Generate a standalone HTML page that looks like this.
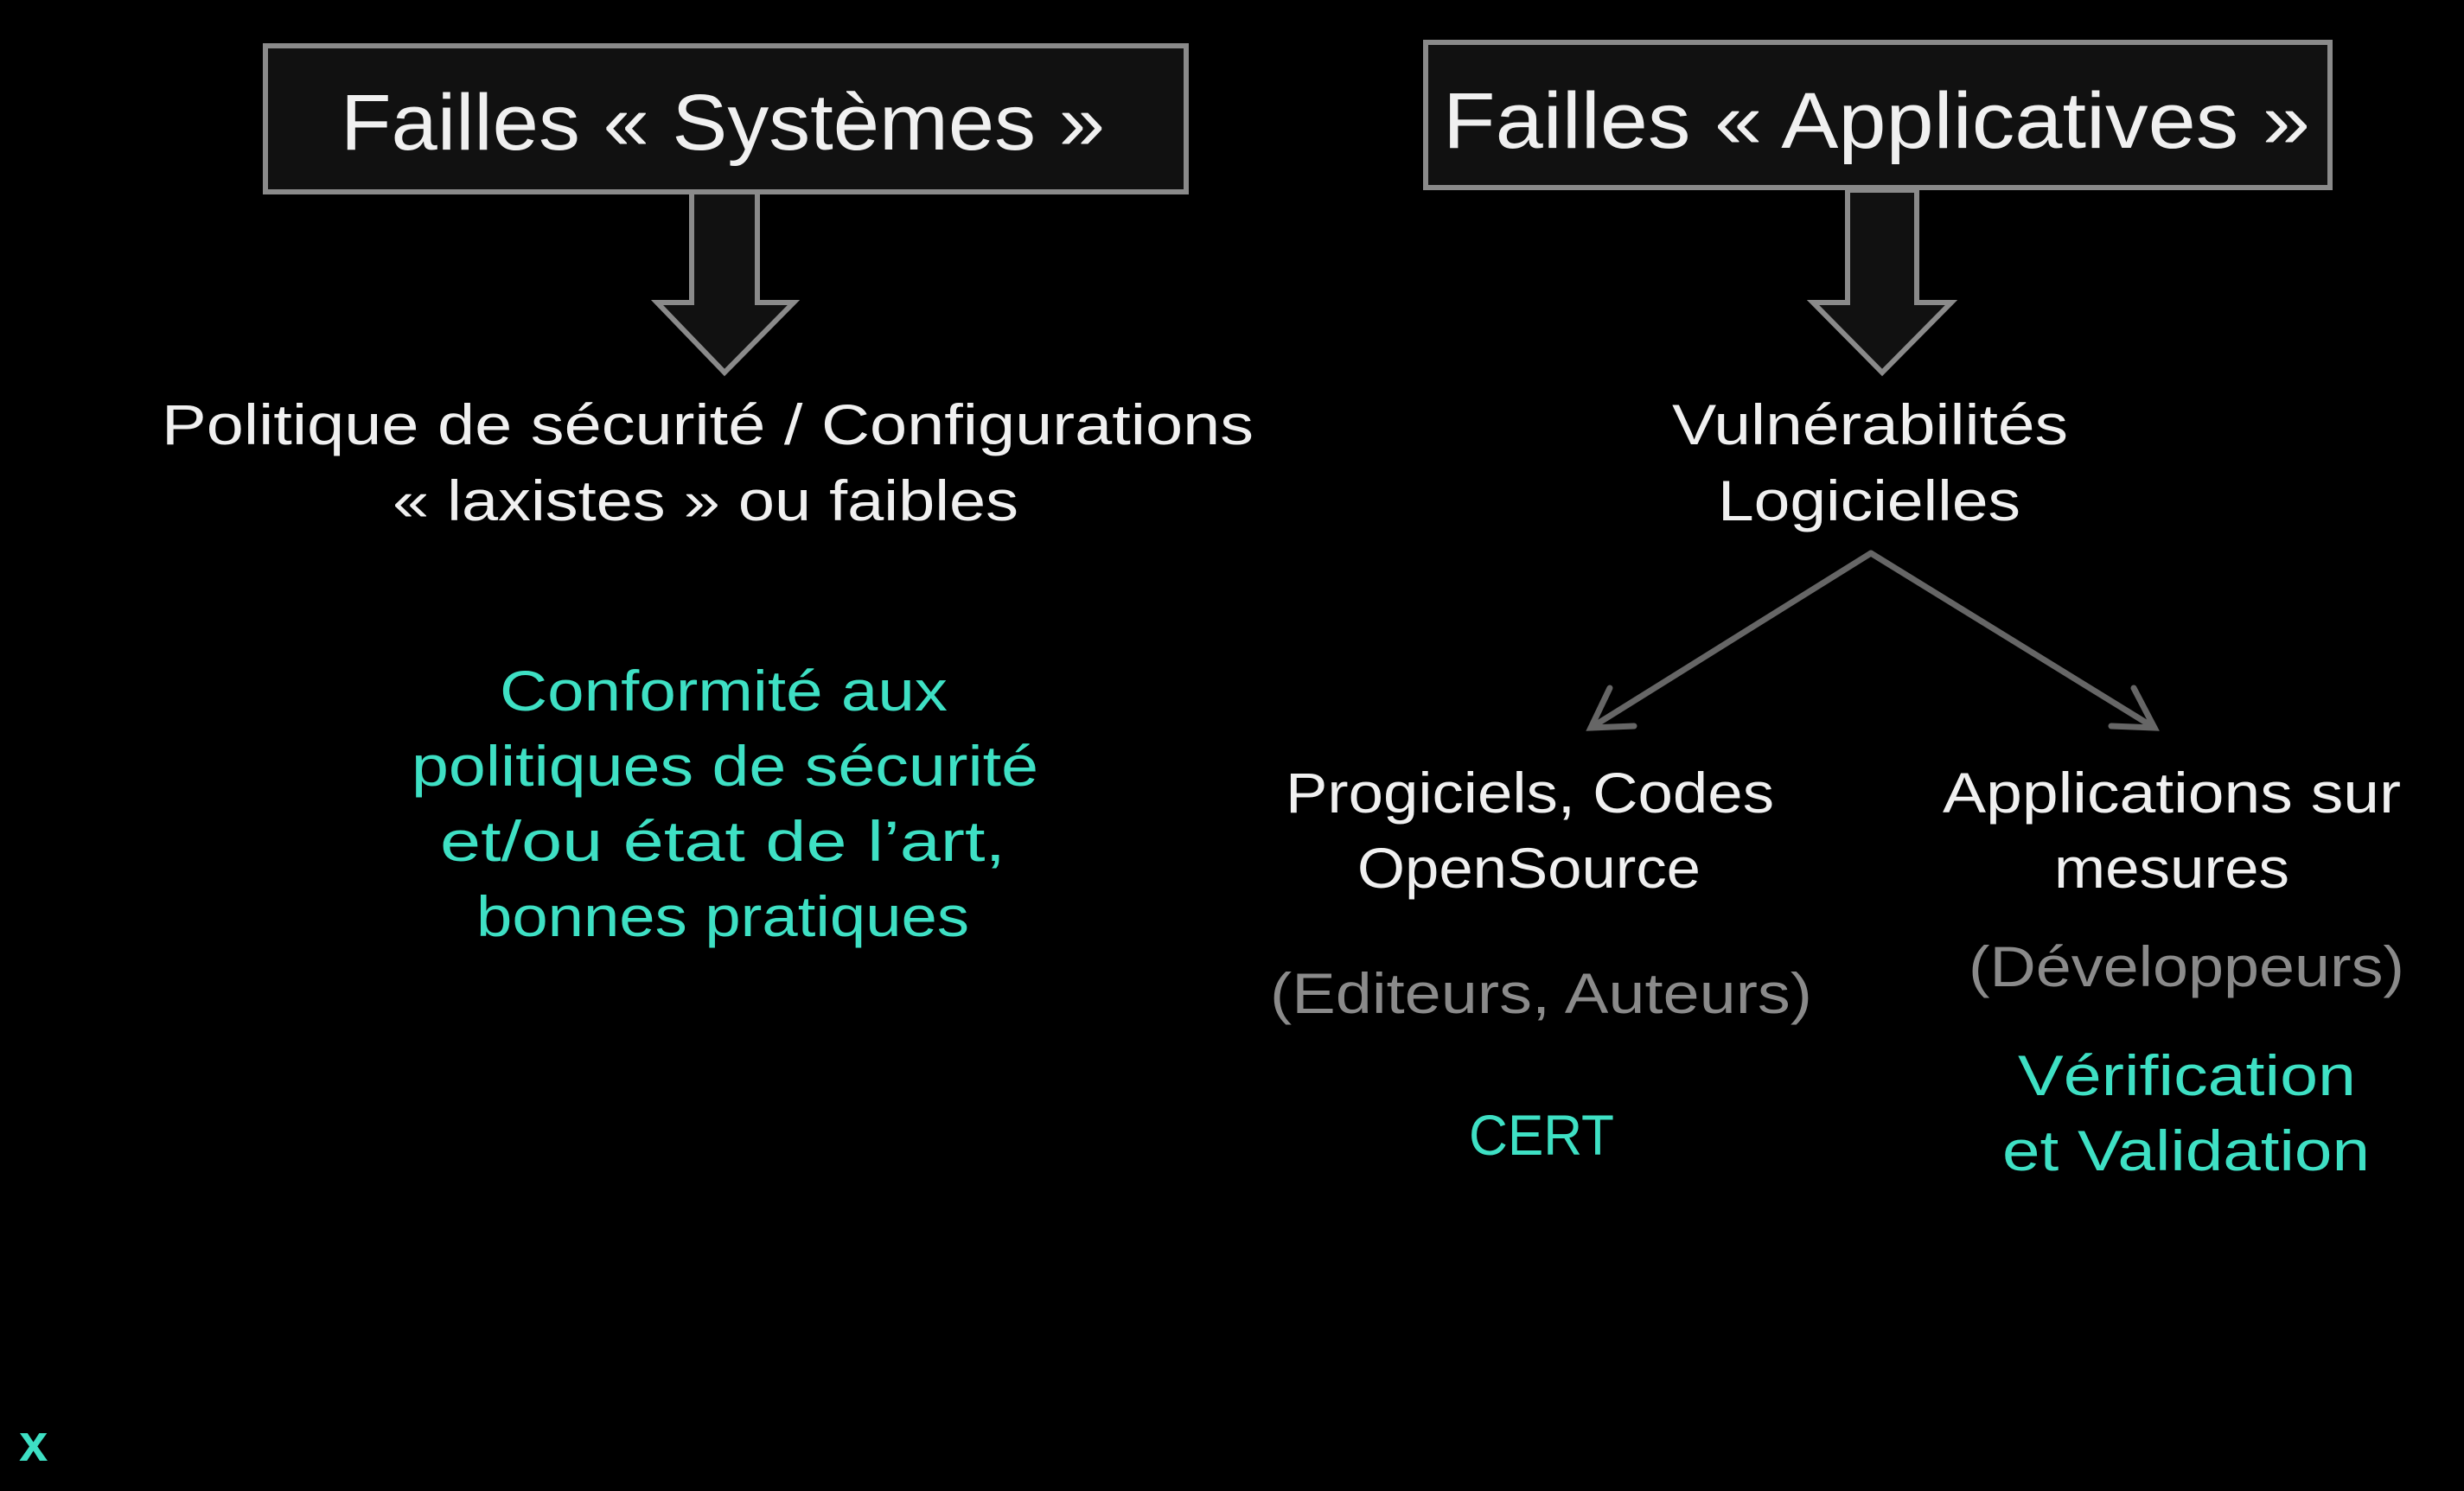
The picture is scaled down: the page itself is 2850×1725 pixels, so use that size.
<!DOCTYPE html>
<html><head><meta charset="utf-8"><style>html,body{margin:0;padding:0;background:#000}svg{display:block}</style></head>
<body>
<svg width="2850" height="1725" viewBox="0 0 2850 1725" xmlns="http://www.w3.org/2000/svg" font-family="'Liberation Sans', 'DejaVu Sans', sans-serif">
<rect width="2850" height="1725" fill="#000"/>
<rect x="307" y="53" width="1065" height="169" fill="#111" stroke="#8a8a8a" stroke-width="6"/>
<rect x="1649" y="49" width="1046" height="168" fill="#111" stroke="#8a8a8a" stroke-width="6"/>
<polygon points="800,222 876,222 876,350 918,350 838,431 760,350 800,350" fill="#111" stroke="#8a8a8a" stroke-width="6" stroke-linejoin="miter"/>
<polygon points="2137,220 2217,220 2217,350 2257,350 2177,431 2097,350 2137,350" fill="#111" stroke="#8a8a8a" stroke-width="6"/>
<g stroke="#666" stroke-width="7" fill="none" stroke-linecap="round">
<line x1="2164" y1="640" x2="1840" y2="842"/>
<polyline points="1862,796 1840,842 1890,840"/>
<line x1="2164" y1="640" x2="2492" y2="842"/>
<polyline points="2468,796 2492,842 2442,840"/>
</g>
<g fill="#f0f0f0" font-size="92">
<text x="394" y="173" textLength="884" lengthAdjust="spacingAndGlyphs">Failles « Systèmes »</text>
<text x="1669" y="171" textLength="1003" lengthAdjust="spacingAndGlyphs">Failles  « Applicatives »</text>
</g>
<g fill="#f0f0f0" font-size="66">
<text x="187" y="514" textLength="1263" lengthAdjust="spacingAndGlyphs">Politique de sécurité / Configurations</text>
<text x="454" y="602" textLength="724" lengthAdjust="spacingAndGlyphs">« laxistes » ou faibles</text>
<text x="1934" y="514" textLength="458" lengthAdjust="spacingAndGlyphs">Vulnérabilités</text>
<text x="1987" y="602" textLength="350" lengthAdjust="spacingAndGlyphs">Logicielles</text>
<text x="1487" y="940" textLength="565" lengthAdjust="spacingAndGlyphs">Progiciels, Codes</text>
<text x="1570" y="1027" textLength="397" lengthAdjust="spacingAndGlyphs">OpenSource</text>
<text x="2247" y="940" textLength="530" lengthAdjust="spacingAndGlyphs">Applications sur</text>
<text x="2376" y="1027" textLength="272" lengthAdjust="spacingAndGlyphs">mesures</text>
</g>
<g fill="#8a8a8a" font-size="66">
<text x="1469" y="1172" textLength="627" lengthAdjust="spacingAndGlyphs">(Editeurs, Auteurs)</text>
<text x="2277" y="1141" textLength="504" lengthAdjust="spacingAndGlyphs">(Développeurs)</text>
</g>
<g fill="#3ee0c4" font-size="66">
<text x="578" y="822" textLength="518" lengthAdjust="spacingAndGlyphs">Conformité aux</text>
<text x="476" y="909" textLength="725" lengthAdjust="spacingAndGlyphs">politiques de sécurité</text>
<text x="509" y="996" textLength="654" lengthAdjust="spacingAndGlyphs">et/ou état de l’art,</text>
<text x="551" y="1083" textLength="570" lengthAdjust="spacingAndGlyphs">bonnes pratiques</text>
<text x="1699" y="1336" textLength="168" lengthAdjust="spacingAndGlyphs">CERT</text>
<text x="2334" y="1267" textLength="391" lengthAdjust="spacingAndGlyphs">Vérification</text>
<text x="2316" y="1354" textLength="425" lengthAdjust="spacingAndGlyphs">et Validation</text>
<text x="22" y="1690" font-weight="bold" font-size="60">x</text>
</g>
</svg>
</body></html>
